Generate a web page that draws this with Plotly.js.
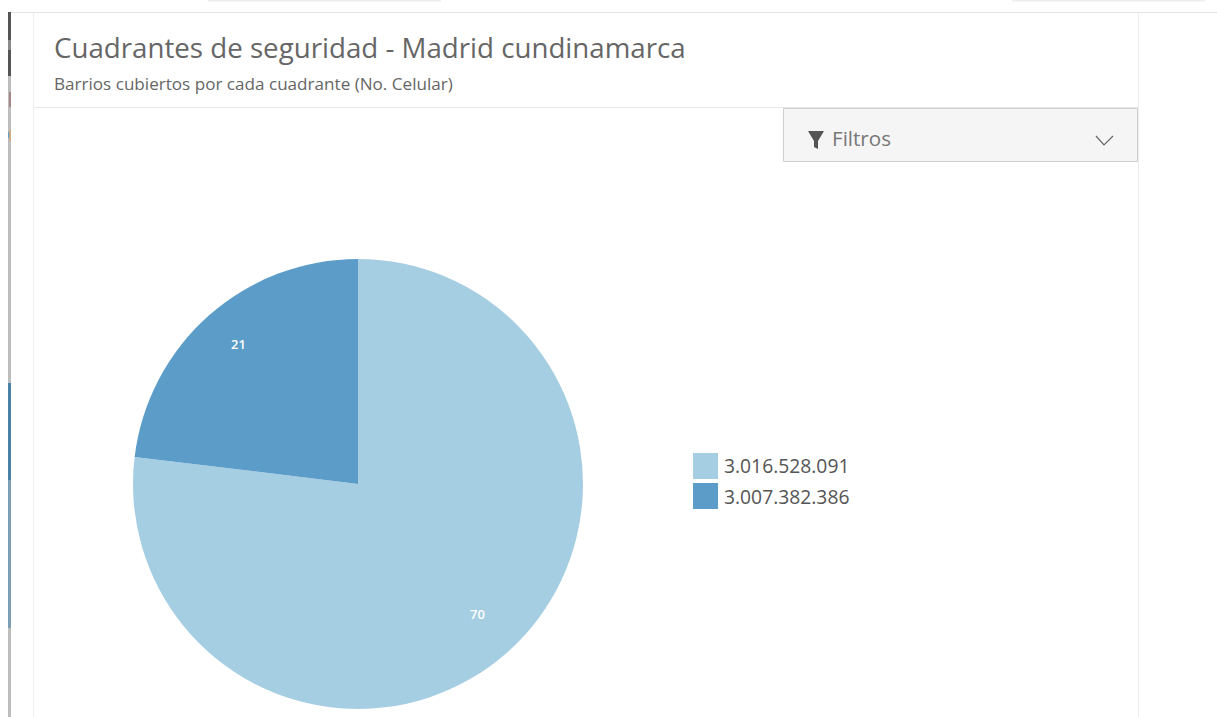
<!DOCTYPE html>
<html><head><meta charset="utf-8">
<script src="https://cdn.plot.ly/plotly-3.0.1.min.js"></script>
<style>html,body{margin:0;padding:0;background:#fff;overflow:hidden}#c{width:1217px;height:717px}</style>
</head><body><div id="c"></div>
<script>
const categories=['3.016.528.091','3.007.382.386'];
const values=[70,21];
const colors=['#a6cee3','#5b9cc9'];
const W=1217,H=717;
const X=p=>p/W, Y=p=>1-p/H;
const rect=(x0,y0,x1,y1,fill,line)=>({type:'rect',xref:'paper',yref:'paper',x0:X(x0),x1:X(x1),y0:Y(y0),y1:Y(y1),fillcolor:fill,line:line?{color:line,width:1}:{width:0},layer:'below'});
const path=(pts,fill,line,w)=>({type:'path',xref:'paper',yref:'paper',path:'M'+pts.map(p=>X(p[0])+','+Y(p[1])).join('L')+(fill?'Z':''),fillcolor:fill||'rgba(0,0,0,0)',line:line?{color:line,width:w||1}:{width:0}});
const txt=(x,y,text,size,color,extra)=>Object.assign({xref:'paper',yref:'paper',x:X(x),y:Y(y),text,showarrow:false,xanchor:'left',yanchor:'middle',font:{family:'"Open Sans",sans-serif',size,color}},extra||{});
const shapes=[
 rect(208,0,441,1.5,'#eeeeee'),rect(1012,0,1205,1.5,'#eeeeee'),
 rect(8,12,1217,13,'#e4e4e4'),
 rect(8,12,11,40,'#555555'),rect(8,40,11,50,'#8a8a8a'),rect(8,50,11,76,'#555555'),rect(8,76,11,383,'#bdbdbd'),
 rect(9,92,11,107,'#a58585'),rect(9,130,11,141,'#c9ad85'),rect(8,132,9,138,'#5b9cc9'),
 rect(8,383,11,480,'#4a7fa6'),rect(8,480,11,628,'#7d9fb3'),rect(8,628,11,717,'#bdbdbd'),
 rect(33,13,34,717,'#eeeeee'),rect(1138,13,1139,717,'#eeeeee'),
 rect(34,107,1138,108,'#e8e8e8'),
 rect(783.5,108.5,1137.5,161.5,'#f5f5f5','#cfcfcf'),
 path([[808,131],[824,131],[818,141],[818,149],[814,147],[814,141]],'#555555'),
 path([[1096,136],[1104,145],[1113,136]],null,'#666666',1.2)
];
categories.forEach((c,i)=>shapes.push(rect(693,453+30*i,718,479+30*i,colors[i])));
const annotations=[
 txt(52,47,'Cuadrantes de seguridad - Madrid cundinamarca',27.7,'#666666'),
 txt(52,84,'Barrios cubiertos por cada cuadrante (No. Celular)',17.1,'#666666'),
 txt(830,138,'Filtros',20.6,'#777777')
];
categories.forEach((c,i)=>annotations.push(txt(722,465.5+31*i,c,19.3,'#555555')));
// slice value labels sit at 0.8 of the radius on each slice's middle angle
const cx=358,cy=484,R=225,total=values.reduce((a,b)=>a+b,0);
let cum=0;
values.forEach(v=>{
 const mid=(cum+v/2)/total*2*Math.PI; cum+=v;
 annotations.push(txt(cx+0.8*R*Math.sin(mid),cy-0.8*R*Math.cos(mid)-5,String(v),13,'#ffffff',{xanchor:'center',font:{family:'"Open Sans",sans-serif',size:13,color:'#ffffff',weight:600}}));
});
Plotly.newPlot('c',[{type:'pie',labels:categories,values:values,sort:false,direction:'clockwise',rotation:0,
 marker:{colors:colors,line:{width:0}},textinfo:'none',showlegend:false,hoverinfo:'label+value',
 domain:{x:[X(133),X(583)],y:[Y(709),Y(259)]}}],
 {width:W,height:H,margin:{l:0,r:0,t:0,b:0},paper_bgcolor:'#fff',showlegend:false,shapes,annotations},
 {displayModeBar:false,staticPlot:true});
</script></body></html>
